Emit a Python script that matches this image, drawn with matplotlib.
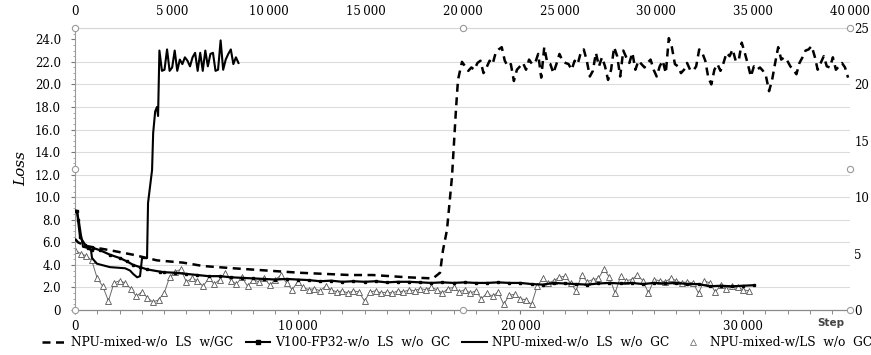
import numpy as np
import matplotlib
matplotlib.use("Agg")
import matplotlib.pyplot as plt
from matplotlib.lines import Line2D
from matplotlib.ticker import FuncFormatter, MultipleLocator

# ---------- data ----------
# NPU-mixed-w/o LS w/GC  (plotted against the top step axis, 0-40000)
DASH_STEPS = [0, 155, 516, 1135, 1806, 2993, 4232, 5574, 6606, 8154, 9909,
              11612, 14193, 15380, 17134, 18476, 18838, 18993, 19199, 19457,
              19664, 19767, 19973]
DASH_LOSS = [6.3, 6.0, 5.7, 5.5, 5.3, 4.9, 4.4, 4.2, 3.9, 3.7, 3.5,
             3.3, 3.1, 3.1, 2.9, 2.8, 3.3, 5.3, 7.1, 11.8,
             17.8, 20.4, 22.0]
DASH_HIGH = [21.2, 21.5, 21.3, 21.9, 22.1, 21.0, 21.5, 22.1, 21.8, 22.8,
             23.1, 23.3, 22.1, 21.6, 21.8, 20.3, 21.3, 21.6, 21.9, 21.3,
             22.2, 21.8, 21.9, 22.7, 20.6, 23.3, 21.9, 21.8, 21.0, 21.8,
             22.7, 22.1, 21.9, 21.8, 21.3, 22.1, 21.8, 22.8,
             23.1, 22.1, 20.7, 21.2, 22.8, 21.6, 22.4, 21.6, 20.4, 21.3,
             23.3, 22.5, 20.7, 23.0, 22.4, 21.9, 22.8, 21.3, 22.1, 21.8,
             21.5, 21.9, 22.2, 21.3, 20.7, 21.6, 22.1, 21.0, 24.1, 23.3,
             21.8, 21.6, 21.0, 21.3, 21.9, 21.3, 21.2, 21.6, 23.1, 22.8,
             22.1, 20.6, 20.0, 21.3, 21.8, 21.2, 21.9, 22.8, 22.5, 23.1,
             22.1, 22.1, 23.7, 22.8, 21.8, 20.7, 21.6, 21.3, 21.5, 21.2,
             20.7, 19.4, 20.4, 21.9, 23.3, 22.2, 22.4, 22.1, 21.6, 21.3,
             20.9, 21.9, 22.4, 23.0, 23.1, 23.4, 22.5, 21.3, 21.9, 22.5,
             21.6, 21.5, 22.4, 21.3, 21.6, 21.9, 21.5, 20.6]
DASH_HIGH_START, DASH_HIGH_END = 20300, 39900

# V100-FP32-w/o LS w/o GC (bottom step axis)
V100_STEPS = [0, 90, 135, 225, 450, 585, 765, 810, 1125, 1570, 2020, 2340,
              2610, 2920, 3235, 3820] + list(range(4000, 30501, 500))
V100_LOSS = [8.8, 8.8, 8.0, 6.5, 5.8, 5.5, 5.3, 5.5, 5.3, 4.9, 4.6, 4.3,
             4.0, 3.8, 3.6, 3.4,
             3.35, 3.3, 3.2, 3.1, 3.0, 3.0, 2.9, 2.85, 2.8, 2.75, 2.7, 2.75,
             2.7, 2.65, 2.55, 2.6, 2.5, 2.55, 2.5, 2.55, 2.45, 2.5, 2.5, 2.45,
             2.4, 2.45, 2.4, 2.45, 2.4, 2.4, 2.45, 2.4, 2.4, 2.3, 2.25, 2.4,
             2.35, 2.3, 2.25, 2.35, 2.4, 2.35, 2.4, 2.3, 2.4, 2.35, 2.4, 2.3,
             2.3, 2.1, 2.15, 2.1, 2.15, 2.2]

# NPU-mixed-w/o LS w/o GC (bottom step axis)
NPU_STEPS = [0, 90, 180, 270, 360, 585, 720, 765, 990, 1570, 2250, 2470,
             2610, 2790, 2920, 3010, 3235, 3280, 3460, 3510, 3600, 3680, 3730]
NPU_LOSS = [8.8, 8.7, 7.8, 6.6, 5.6, 5.5, 5.3, 4.6, 4.1, 3.8, 3.7, 3.5,
            3.2, 2.9, 3.0, 4.6, 4.6, 9.5, 12.4, 15.7, 17.6, 18.0, 17.2]
NPU_HIGH = [23.0, 21.2, 21.3, 23.1, 21.2, 21.5, 23.0, 21.2, 22.2, 21.8,
            22.4, 22.1, 21.6, 22.4, 22.8, 21.2, 22.8, 21.2, 23.0, 21.6,
            22.7, 22.8, 21.2, 21.3, 23.9, 21.3, 22.2, 22.7, 23.1, 21.8,
            22.4, 21.9]
NPU_HIGH_START, NPU_HIGH_END = 3790, 7340

# NPU-mixed-w/LS w/o GC (bottom step axis, logged every 250 steps)
LS_INTERVAL = 250
LS_LOSS = [5.3, 5.0, 4.8, 4.4, 2.8, 2.1, 0.8, 2.4, 2.6, 2.4,
           1.9, 1.2, 1.6, 1.1, 0.7, 0.9, 1.5, 2.9, 3.4, 3.6,
           2.5, 2.8, 2.6, 2.1, 2.8, 2.3, 2.7, 3.3, 2.6, 2.3,
           2.9, 2.1, 2.7, 2.5, 2.8, 2.2, 2.7, 3.1, 2.4, 1.8,
           2.5, 2.0, 1.8, 1.9, 1.7, 2.1, 1.8, 1.6, 1.7, 1.5,
           1.7, 1.6, 0.8, 1.6, 1.7, 1.5, 1.6, 1.5, 1.7, 1.6,
           1.8, 1.7, 1.9, 1.8, 2.0, 1.8, 1.5, 1.9, 2.0, 1.6,
           1.8, 1.5, 1.7, 1.0, 1.5, 1.2, 1.6, 0.5, 1.3, 1.4,
           1.0, 0.9, 0.5, 2.1, 2.8, 2.4, 2.6, 2.9, 3.0, 2.4,
           1.7, 3.1, 2.5, 2.7, 2.8, 3.6, 2.9, 1.5, 3.0, 2.6,
           2.7, 3.1, 2.6, 1.5, 2.7, 2.6, 2.5, 2.8, 2.6, 2.4,
           2.5, 2.4, 1.5, 2.6, 2.4, 1.6, 2.2, 1.9, 2.1, 2.0,
           1.8, 1.7]

LEGEND_LABELS = ["NPU-mixed-w/o  LS  w/GC", "V100-FP32-w/o  LS  w/o  GC",
                 "NPU-mixed-w/o  LS  w/o  GC", "NPU-mixed-w/LS  w/o  GC"]

BOTTOM_TICKS = [0, 10000, 20000, 30000]
TOP_TICKS = list(range(0, 40001, 5000))
LEFT_TICKS = list(range(0, 25, 2))
RIGHT_TICKS = [0, 5, 10, 15, 20, 25]
GRID_LEVELS = list(range(2, 23, 2))

# ---------- build series ----------
dash_x = np.concatenate([DASH_STEPS, np.linspace(DASH_HIGH_START, DASH_HIGH_END, len(DASH_HIGH))])
dash_y = np.concatenate([DASH_LOSS, DASH_HIGH])
npu_x = np.concatenate([NPU_STEPS, np.linspace(NPU_HIGH_START, NPU_HIGH_END, len(NPU_HIGH))])
npu_y = np.concatenate([NPU_LOSS, NPU_HIGH])
ls_x = np.arange(len(LS_LOSS)) * LS_INTERVAL
ls_y = np.array(LS_LOSS)

SERIF = "DejaVu Serif"
plt.rcParams["font.family"] = SERIF

fig = plt.figure(figsize=(8.71, 3.55), dpi=100)
ax = fig.add_axes([75 / 871, 1 - 310 / 355, 775 / 871, 282 / 355])
ax.set_xlim(0, 34800)
ax.set_ylim(0, 25)

for g in GRID_LEVELS:
    ax.axhline(g, color="#dcdcdc", lw=0.8, zorder=0)

ax.spines["right"].set_visible(False)
ax.spines["top"].set_color("#d6d6d6")
ax.spines["top"].set_linewidth(0.8)
ax.spines["left"].set_color("#9a9a9a")
ax.spines["left"].set_linewidth(0.8)
ax.spines["bottom"].set_color("#8a8a8a")
ax.spines["bottom"].set_linewidth(0.9)

ax.set_xticks(BOTTOM_TICKS)
ax.xaxis.set_minor_locator(MultipleLocator(1000))
ax.xaxis.set_major_formatter(FuncFormatter(lambda v, p: f"{int(v):,}".replace(",", "\u2009")))
ax.set_yticks(LEFT_TICKS)
ax.yaxis.set_minor_locator(MultipleLocator(0.5))
ax.yaxis.set_major_formatter(FuncFormatter(lambda v, p: "0" if v == 0 else f"{v:.1f}"))
ax.tick_params(axis="x", which="both", length=3, color="#777777", labelsize=8.5, pad=4)
ax.tick_params(axis="y", which="major", length=3, color="#777777", labelsize=8.5, pad=7)
ax.tick_params(axis="y", which="minor", length=1.5, color="#999999")

ax.set_ylabel("Loss", fontsize=11, style="italic", labelpad=5)

ax_top = ax.twiny()
ax_top.set_xlim(0, 40000)
ax_top.set_xticks(TOP_TICKS)
ax_top.xaxis.set_major_formatter(FuncFormatter(lambda v, p: f"{int(v):,}".replace(",", "\u2009")))
ax_top.tick_params(axis="x", length=0, labelsize=8.5, pad=7)

ax_r = ax.twinx()
ax_r.set_ylim(0, 25)
ax_r.set_yticks(RIGHT_TICKS)
ax_r.tick_params(axis="y", length=0, labelsize=8.5, pad=3)

for a in (ax_top, ax_r):
    for s in a.spines.values():
        s.set_visible(False)

# ---------- series ----------
ax.plot(ls_x, ls_y, color="#6a6a6a", lw=0.7, marker="^", ms=4, mfc="white",
        mec="#555555", mew=0.6, zorder=2)
ax.plot(V100_STEPS, V100_LOSS, color="black", lw=1.6, marker="s", ms=1.8, zorder=3)
ax.plot(npu_x, npu_y, color="black", lw=1.5, zorder=4)
ax_top.plot(dash_x, dash_y, color="black", lw=1.8, dashes=(3.2, 2.2), zorder=4)

# selection handles at the plot-area corners and midpoints
hx = [0, 0.5, 1, 0, 1, 0, 0.5, 1]
hy = [0, 0, 0, 0.5, 0.5, 1, 1, 1]
ax.plot(hx, hy, ls="none", marker="o", ms=4.5, mfc="white", mec="#9a9a9a",
        mew=0.8, transform=ax.transAxes, clip_on=False, zorder=6)

ax.text(0.975, -0.045, "Step", transform=ax.transAxes, ha="center", va="center",
        fontsize=7.5, fontweight="bold", color="#444444", family="DejaVu Sans")

handles = [
    Line2D([], [], color="black", lw=1.8, dashes=(3.2, 2.2)),
    Line2D([], [], color="black", lw=1.5, marker="s", ms=2.5),
    Line2D([], [], color="black", lw=1.5),
    Line2D([], [], ls="none", marker="^", ms=4, mfc="white", mec="#777777", mew=0.6),
]
fig.legend(handles, LEGEND_LABELS, loc="lower center", bbox_to_anchor=(0.525, -0.015),
           ncol=4, frameon=False, fontsize=8.8, handlelength=2.0, handletextpad=0.4,
           columnspacing=1.0)

fig.savefig("out.png", dpi=100)
